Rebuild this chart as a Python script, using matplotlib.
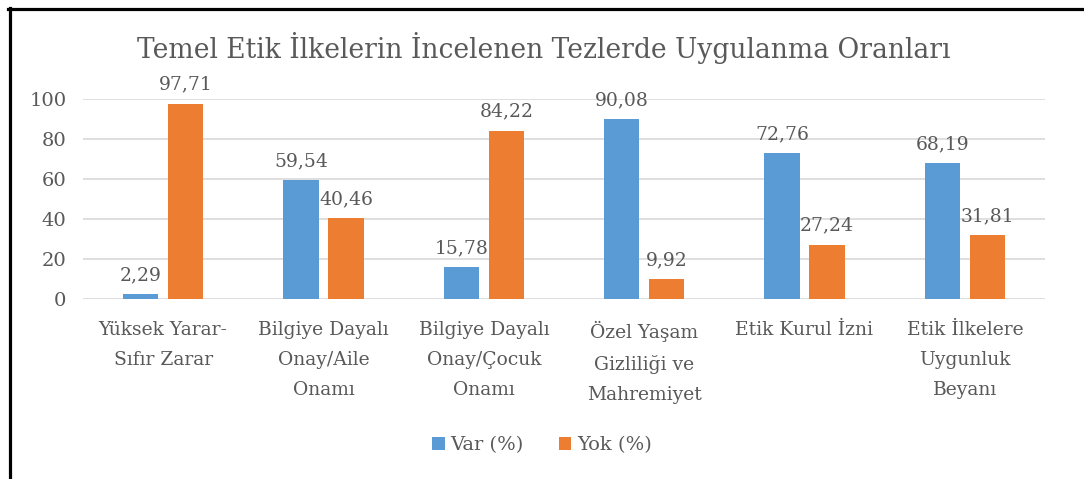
import matplotlib
matplotlib.use("Agg")
import matplotlib.pyplot as plt
import numpy as np
from matplotlib.lines import Line2D

categories = ["Yüksek Yarar-\nSıfır Zarar", "Bilgiye Dayalı\nOnay/Aile\nOnamı",
              "Bilgiye Dayalı\nOnay/Çocuk\nOnamı", "Özel Yaşam\nGizliliği ve\nMahremiyet",
              "Etik Kurul İzni", "Etik İlkelere\nUygunluk\nBeyanı"]
var_values = [2.29, 59.54, 15.78, 90.08, 72.76, 68.19]
yok_values = [97.71, 40.46, 84.22, 9.92, 27.24, 31.81]
series_names = ["Var (%)", "Yok (%)"]
yticks = [0, 20, 40, 60, 80, 100]
title = "Temel Etik İlkelerin İncelenen Tezlerde Uygulanma Oranları"

plt.rcParams['font.family'] = ['DejaVu Serif']
text_color = "#595959"
blue = "#5B9BD5"
orange = "#ED7D31"

fig = plt.figure(figsize=(10.84, 4.79), dpi=100)
ax = fig.add_axes([83/1084, 1-299/479, (1045-83)/1084, 200/479])

x = np.arange(len(categories))
w = 0.22
off = 0.14
b1 = ax.bar(x - off, var_values, w, color=blue, label=series_names[0], zorder=3)
b2 = ax.bar(x + off, yok_values, w, color=orange, label=series_names[1], zorder=3)

for bars, vals in ((b1, var_values), (b2, yok_values)):
    for r, v in zip(bars, vals):
        ax.annotate(f"{v:.2f}".replace(".", ","), (r.get_x() + r.get_width()/2, v),
                    xytext=(0, 7), textcoords="offset points", ha="center", va="bottom",
                    fontsize=13.5, color=text_color, annotation_clip=False)

ax.set_xlim(-0.5, len(categories) - 0.5)
ax.set_ylim(0, 100)
ax.set_yticks(yticks)
ax.set_yticklabels([str(t) for t in yticks], fontsize=14, color=text_color)
ax.set_xticks(x)
ax.set_xticklabels(categories, fontsize=13.5, color=text_color, linespacing=1.85)
ax.tick_params(axis='both', length=0)
ax.tick_params(axis='x', pad=16)
ax.tick_params(axis='y', pad=12)
ax.grid(axis='y', color="#D9D9D9", linewidth=1.2, zorder=0)
for s in ax.spines.values():
    s.set_visible(False)

fig.text(0.502, 1-48/479, title, ha="center", va="center", fontsize=19.1, color=text_color)

leg = fig.legend(handles=[b1, b2], loc="center", bbox_to_anchor=(0.5, 1-445/479), ncol=2,
                 frameon=False, fontsize=14, handlelength=0.65, handleheight=0.65,
                 columnspacing=1.8, handletextpad=0.3)
for t in leg.get_texts():
    t.set_color(text_color)

fig.add_artist(Line2D([9.5/1084, 9.5/1084], [0, 1-8/479], color="black", linewidth=2.3,
                      transform=fig.transFigure))
fig.add_artist(Line2D([8/1084, 1], [1-9/479, 1-9/479], color="black", linewidth=2.3,
                      transform=fig.transFigure))

fig.savefig("out.png", dpi=100, facecolor="white")
